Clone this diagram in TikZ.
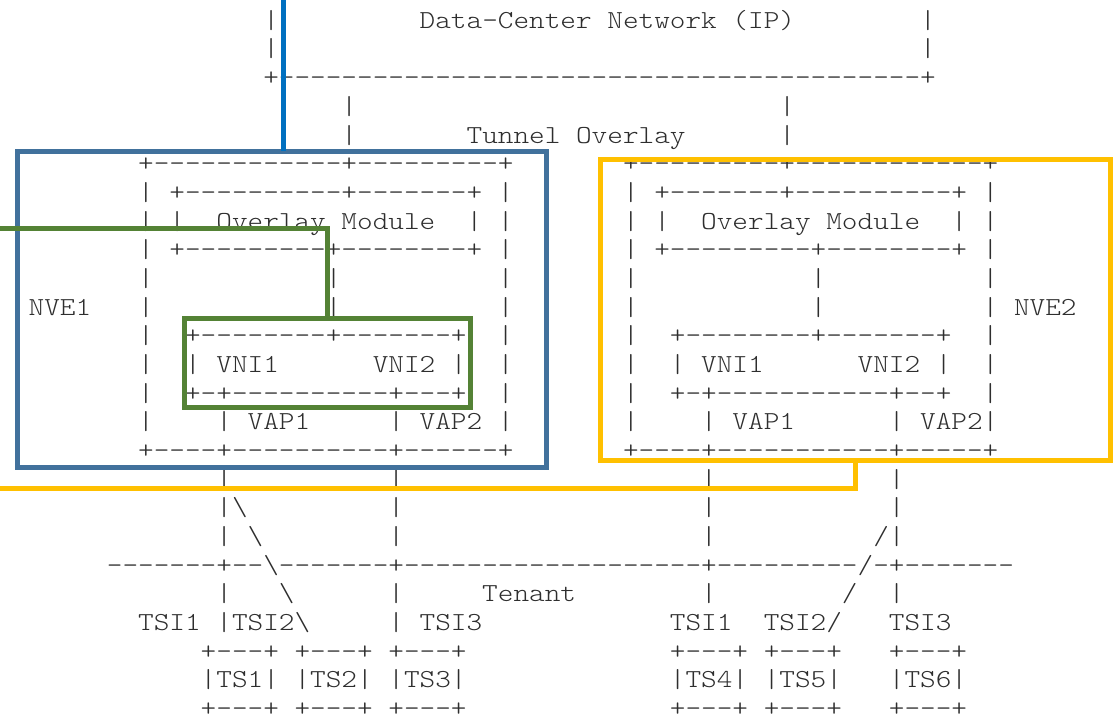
\documentclass[tikz,border=0pt]{standalone}
\usepackage{fontspec}
\usepackage{graphicx}
\newfontfamily\asc{lmmonolt10-regular.otf}
\definecolor{txt}{HTML}{2E2E2E}
\definecolor{cblue}{HTML}{0070C0}
\definecolor{csteel}{HTML}{41719C}
\definecolor{cgreen}{HTML}{548235}
\definecolor{cyellow}{HTML}{FFC000}
\ExplSyntaxOn
\cs_new:Npn \dsh #1 { \prg_replicate:nn {#1} { - \kern 0pt } }
\ExplSyntaxOff
\newcommand\spc[1]{\kern\dimexpr#1\fontcharwd\font`\x\relax}
\newcommand\bsl{\textbackslash}
\newcommand\rowfont{\asc\fontsize{29.5pt}{30pt}\selectfont}
\newsavebox\cwbox
\tikzset{
  row/.style={anchor=base west, inner sep=0pt, outer sep=0pt, text=txt},
  ovl/.style={draw, line width=5pt, rectangle, inner sep=0pt, outer sep=0pt},
  lnk/.style={line width=5pt},
}
\newcommand\rowat[3]{\node[row] (#1) at (28.7,{28.3+28.68*#2}) {\scalebox{\hsc}[\vsc]{\rowfont #3}};}
\begin{document}%
\sbox\cwbox{\rowfont x}%
\pgfmathsetmacro\hsc{15.64/\the\wd\cwbox}%
\def\vsc{0.88}%
\begin{tikzpicture}[x=1pt,y=-1pt]
\useasboundingbox (0,0) rectangle (1115,721);
% ASCII art rows
\rowat{r0}{0}{\spc{15}|\spc{9}Data-Center Network (IP)\spc{8}|}
\rowat{r1}{1}{\spc{15}|\spc{41}|}
\rowat{r2}{2}{\spc{15}+\dsh{41}+}
\rowat{r3}{3}{\spc{20}|\spc{27}|}
\rowat{r4}{4}{\spc{20}|\spc{7}Tunnel Overlay\spc{6}|}
\rowat{r5}{5}{\spc{7}+\dsh{12}+\dsh{9}+\spc{7}+\dsh{9}+\dsh{12}+}
\rowat{r6}{6}{\spc{7}|\spc{1}+\dsh{10}+\dsh{7}+\spc{1}|\spc{7}|\spc{1}+\dsh{7}+\dsh{10}+\spc{1}|}
\rowat{r7}{7}{\spc{7}|\spc{1}|\spc{2}Overlay Module\spc{2}|\spc{1}|\spc{7}|\spc{1}|\spc{2}Overlay Module\spc{2}|\spc{1}|}
\rowat{r8}{8}{\spc{7}|\spc{1}+\dsh{9}+\dsh{8}+\spc{1}|\spc{7}|\spc{1}+\dsh{9}+\dsh{8}+\spc{1}|}
\rowat{r9}{9}{\spc{7}|\spc{11}|\spc{10}|\spc{7}|\spc{11}|\spc{10}|}
\rowat{r10}{10}{NVE1\spc{3}|\spc{11}|\spc{10}|\spc{7}|\spc{11}|\spc{10}|\spc{1}NVE2}
\rowat{r11}{11}{\spc{7}|\spc{2}+\dsh{8}+\dsh{7}+\spc{2}|\spc{7}|\spc{2}+\dsh{8}+\dsh{7}+\spc{2}|}
\rowat{r12}{12}{\spc{7}|\spc{2}|\spc{1}VNI1\spc{6}VNI2\spc{1}|\spc{2}|\spc{7}|\spc{2}|\spc{1}VNI1\spc{6}VNI2\spc{1}|\spc{2}|}
\rowat{r13}{13}{\spc{7}|\spc{2}+-\kern0pt+\dsh{10}+\dsh{3}+\spc{2}|\spc{7}|\spc{2}+-\kern0pt+\dsh{11}+\dsh{2}+\spc{2}|}
\rowat{r14}{14}{\spc{7}|\spc{4}|\spc{1}VAP1\spc{5}|\spc{1}VAP2\spc{1}|\spc{7}|\spc{4}|\spc{1}VAP1\spc{6}|\spc{1}VAP2|}
\rowat{r15}{15}{\spc{7}+\dsh{4}+\dsh{10}+\dsh{6}+\spc{7}+\dsh{4}+\dsh{11}+\dsh{5}+}
\rowat{r16}{16}{\spc{12}|\spc{10}|\spc{19}|\spc{11}|}
\rowat{r17}{17}{\spc{12}|\bsl\spc{9}|\spc{19}|\spc{11}|}
\rowat{r18}{18}{\spc{12}|\spc{1}\bsl\spc{8}|\spc{19}|\spc{10}/|}
\rowat{r19}{19}{\spc{5}\dsh{7}+\dsh{2}\bsl\dsh{7}+\dsh{19}+\dsh{9}/-\kern0pt+\dsh{7}}
\rowat{r20}{20}{\spc{12}|\spc{3}\bsl\spc{6}|\spc{5}Tenant\spc{8}|\spc{8}/\spc{2}|}
\rowat{r21}{21}{\spc{7}TSI1\spc{1}|TSI2\bsl\spc{5}|\spc{1}TSI3\spc{12}TSI1\spc{2}TSI2/\spc{3}TSI3}
\rowat{r22}{22}{\spc{11}+\dsh{3}+\spc{1}+\dsh{3}+\spc{1}+\dsh{3}+\spc{13}+\dsh{3}+\spc{1}+\dsh{3}+\spc{3}+\dsh{3}+}
\rowat{r23}{23}{\spc{11}|TS1|\spc{1}|TS2|\spc{1}|TS3|\spc{13}|TS4|\spc{1}|TS5|\spc{3}|TS6|}
\rowat{r24}{24}{\spc{11}+\dsh{3}+\spc{1}+\dsh{3}+\spc{1}+\dsh{3}+\spc{13}+\dsh{3}+\spc{1}+\dsh{3}+\spc{3}+\dsh{3}+}
% coloured overlays
\node[ovl, draw=csteel, minimum width=528.5pt, minimum height=316.5pt] (nve1) at (281.75,309.25) {};
\node[ovl, draw=cgreen, minimum width=286pt, minimum height=89pt] (vni) at (327,362.5) {};
\node[ovl, draw=cyellow, minimum width=510pt, minimum height=301pt] (nve2) at (855,309.5) {};
\coordinate (btop) at (283,0);
\coordinate (gstart) at (0,228.5);
\coordinate (yend) at (0,488);
\draw[lnk, cblue] (btop) -- (btop |- nve1.north);
\draw[lnk, cgreen] (gstart) -| (vni.north);
\draw[lnk, cyellow] (nve2.south) |- (yend);
\end{tikzpicture}
\end{document}
